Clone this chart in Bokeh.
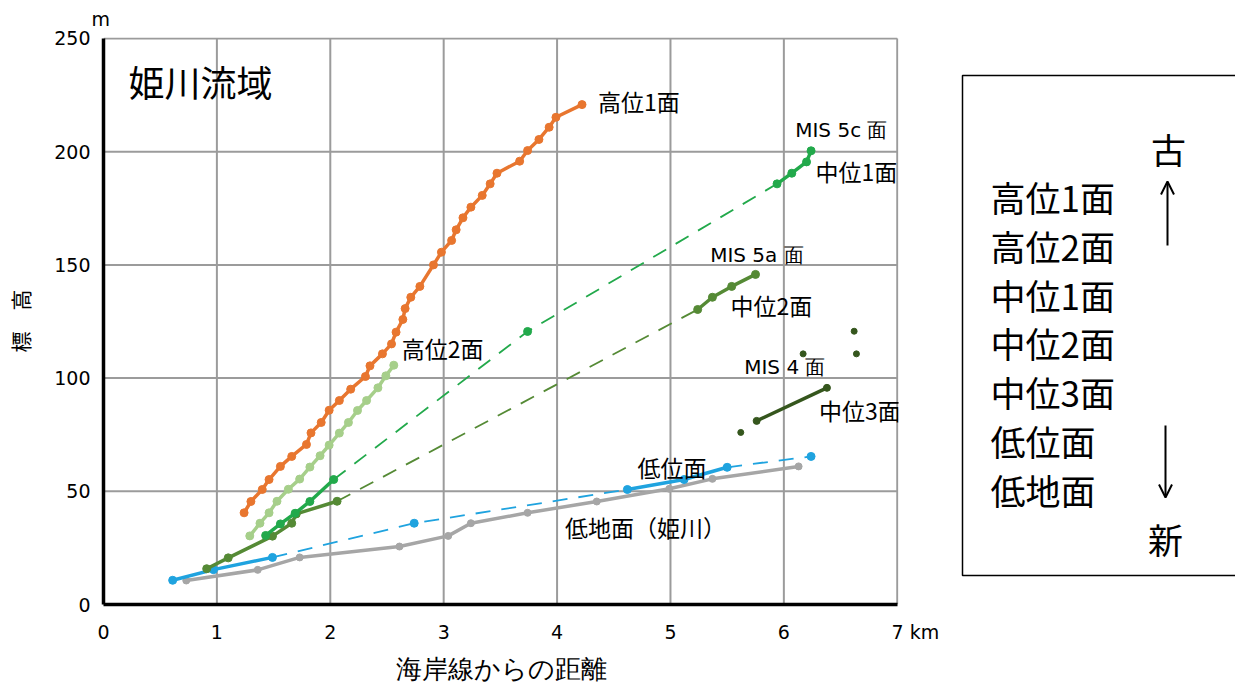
from bokeh.plotting import figure
from bokeh.layouts import row
from bokeh.models import Range1d, FixedTicker, Label, Arrow, OpenHead, Title
from bokeh.embed import file_html
from bokeh.resources import INLINE

# ---------------- data ----------------
x_ticks = [0, 1, 2, 3, 4, 5, 6, 7]
y_ticks = [0, 50, 100, 150, 200, 250]
x_unit = "km"
y_unit = "m"
x_title = "海岸線からの距離"
y_title = "標　高"

# 高位1面
koui1_x = [1.24, 1.30, 1.40, 1.46, 1.56, 1.66, 1.79, 1.83, 1.92, 1.99, 2.08, 2.18, 2.31, 2.35, 2.46,
           2.54, 2.58, 2.64, 2.66, 2.71, 2.79, 2.91, 2.98, 3.07, 3.11, 3.17, 3.24, 3.34, 3.41, 3.47,
           3.67, 3.74, 3.84, 3.93, 3.99, 4.22]
koui1_y = [40.5, 45.5, 50.8, 55.2, 61.0, 65.4, 70.7, 75.8, 80.4, 85.8, 90.1, 95.1, 100.7, 105.4, 110.7,
           115.1, 120.3, 125.9, 130.7, 135.7, 140.5, 150.0, 155.6, 160.8, 165.5, 170.8, 175.5, 180.7,
           185.8, 190.5, 195.8, 200.5, 205.4, 210.8, 215.2, 220.8]

# 高位2面
koui2_x = [1.29, 1.38, 1.46, 1.53, 1.63, 1.73, 1.82, 1.91, 1.99, 2.08, 2.16, 2.24, 2.32, 2.42, 2.49, 2.56]
koui2_y = [30.3, 35.9, 40.5, 45.6, 50.9, 55.4, 60.7, 65.7, 70.4, 75.7, 80.4, 85.7, 90.1, 95.7, 101.0, 105.7]

# 中位1面
chuui1_a_x = [1.43, 1.56, 1.69, 1.82, 2.03]
chuui1_a_y = [30.5, 35.6, 40.3, 45.5, 55.2]
chuui1_mid_x = [3.74]
chuui1_mid_y = [120.6]
chuui1_b_x = [5.94, 6.07, 6.20, 6.24]
chuui1_b_y = [185.8, 190.5, 195.5, 200.4]

# 中位2面
chuui2_a_x = [0.91, 1.10, 1.49, 1.66, 1.70, 2.06]
chuui2_a_y = [15.8, 20.6, 30.2, 35.9, 40.0, 45.6]
chuui2_b_x = [5.24, 5.37, 5.54, 5.75]
chuui2_b_y = [130.3, 135.7, 140.5, 145.8]

# 中位3面
chuui3_x = [5.76, 6.38]
chuui3_y = [81.1, 95.7]
chuui3_pts_x = [5.62, 6.17, 6.62, 6.64]
chuui3_pts_y = [76.0, 110.7, 120.7, 110.7]

# 低位面
teii_a_x = [0.61, 0.97, 1.49]
teii_a_y = [10.7, 15.4, 20.8]
teii_mid_x = [2.74]
teii_mid_y = [35.9]
teii_b_x = [4.62, 5.12, 5.50]
teii_b_y = [50.8, 55.2, 60.6]
teii_end_x = [6.24]
teii_end_y = [65.4]

# 低地面（姫川）
teichi_x = [0.73, 1.36, 1.73, 2.61, 3.04, 3.24, 3.74, 4.35, 4.99, 5.37, 6.13]
teichi_y = [10.6, 15.3, 20.8, 25.6, 30.3, 35.9, 40.5, 45.5, 51.1, 55.5, 61.0]

legend_items = ["高位1面", "高位2面", "中位1面", "中位2面", "中位3面", "低位面", "低地面"]
age_old = "古"
age_new = "新"

# ---------------- styles ----------------
C_ORANGE = "#e8762f"
C_LGREEN = "#a6cf8a"
C_GREEN = "#22a94b"
C_OLIVE = "#558a35"
C_DGREEN = "#35561d"
C_BLUE = "#1fa3df"
C_GRAY = "#a6a6a6"
GRID = "#9b9b9b"
JP = "Noto Sans CJK JP"
NUM = "DejaVu Sans"
FSP = "\u2007"

W1, H = 945, 688
FRAME_TOP, FRAME_BOTTOM = 37, 604
p = figure(width=W1, height=H,
           x_range=Range1d(0, 7.011), y_range=Range1d(0, 250.44),
           output_backend="svg", toolbar_location=None, title=None,
           min_border_left=103, min_border_right=47, min_border_top=FRAME_TOP,
           min_border_bottom=H - FRAME_BOTTOM)
p.outline_line_color = None
p.xgrid.visible = False
p.ygrid.visible = False

# grid lines (limited to the data area)
gx = [t for t in x_ticks if t > 0]
gy = [t for t in y_ticks if t > 0]
p.segment(x0=gx, y0=[0] * len(gx), x1=gx, y1=[max(y_ticks)] * len(gx), line_color=GRID, line_width=2)
p.segment(x0=[0] * len(gy), y0=gy, x1=[max(x_ticks)] * len(gy), y1=gy, line_color=GRID, line_width=2)

def style_axis(ax):
    ax.axis_line_width = 3.5
    ax.axis_line_color = "black"
    ax.major_tick_line_color = None
    ax.minor_tick_line_color = None
    ax.major_tick_out = 0
    ax.major_tick_in = 0
    ax.minor_tick_out = 0
    ax.minor_tick_in = 0
    ax.major_label_text_font = NUM
    ax.major_label_text_font_size = "19px"
    ax.major_label_text_color = "black"
    ax.axis_label_text_font_style = "normal"
    ax.axis_label_text_color = "black"

xa = p.xaxis[0]
ya = p.yaxis[0]
style_axis(xa)
style_axis(ya)
xa.ticker = FixedTicker(ticks=x_ticks)
xa.bounds = (0, max(x_ticks))
xa.major_label_standoff = 16
xa.major_label_overrides = {max(x_ticks): FSP * 3 + str(max(x_ticks)) + " " + x_unit}
xa.axis_label = x_title
xa.axis_label_text_font = NUM
xa.axis_label_text_font_size = "26px"
xa.axis_label_standoff = 8

ya.ticker = FixedTicker(ticks=y_ticks)
ya.bounds = (0, max(y_ticks))
ya.major_label_standoff = 13
ya.axis_label = y_title
ya.axis_label_text_font = JP
ya.axis_label_text_font_size = "21px"
ya.axis_label_standoff = 16

# unit above the y axis
p.add_layout(Title(text=y_unit, align="left", offset=-12, standoff=11, vertical_align="top",
                   text_font=NUM, text_font_size="19px", text_font_style="normal",
                   text_color="black"), "above")

DASH = "15 11"

def conn(ax_, ay_, bx_, by_):
    return [ax_[-1], bx_[0]], [ay_[-1], by_[0]]

# 低地面
p.line(teichi_x, teichi_y, line_color=C_GRAY, line_width=3.5)
p.scatter(teichi_x, teichi_y, size=7, color=C_GRAY)

# 低位面
dx = [teii_a_x[-1], teii_mid_x[0], teii_b_x[0]]
dy = [teii_a_y[-1], teii_mid_y[0], teii_b_y[0]]
p.line(dx, dy, line_color=C_BLUE, line_width=1.8, line_dash=DASH)
ex, ey = conn(teii_b_x, teii_b_y, teii_end_x, teii_end_y)
p.line(ex, ey, line_color=C_BLUE, line_width=1.8, line_dash=DASH)
p.line(teii_a_x, teii_a_y, line_color=C_BLUE, line_width=3.5)
p.line(teii_b_x, teii_b_y, line_color=C_BLUE, line_width=3.5)
p.scatter(teii_a_x + teii_mid_x + teii_b_x + teii_end_x,
          teii_a_y + teii_mid_y + teii_b_y + teii_end_y, size=8, color=C_BLUE)

# 中位3面
p.line(chuui3_x, chuui3_y, line_color=C_DGREEN, line_width=3.5)
p.scatter(chuui3_x, chuui3_y, size=7, color=C_DGREEN)
p.scatter(chuui3_pts_x, chuui3_pts_y, size=6, color=C_DGREEN)

# 中位2面
cx, cy = conn(chuui2_a_x, chuui2_a_y, chuui2_b_x, chuui2_b_y)
p.line(cx, cy, line_color=C_OLIVE, line_width=1.8, line_dash=DASH)
p.line(chuui2_a_x, chuui2_a_y, line_color=C_OLIVE, line_width=3.5)
p.line(chuui2_b_x, chuui2_b_y, line_color=C_OLIVE, line_width=3.5)
p.scatter(chuui2_a_x + chuui2_b_x, chuui2_a_y + chuui2_b_y, size=8, color=C_OLIVE)

# 中位1面
dx = [chuui1_a_x[-1], chuui1_mid_x[0], chuui1_b_x[0]]
dy = [chuui1_a_y[-1], chuui1_mid_y[0], chuui1_b_y[0]]
p.line(dx, dy, line_color=C_GREEN, line_width=1.8, line_dash=DASH)
p.line(chuui1_a_x, chuui1_a_y, line_color=C_GREEN, line_width=3.5)
p.line(chuui1_b_x, chuui1_b_y, line_color=C_GREEN, line_width=3.5)
p.scatter(chuui1_a_x + chuui1_mid_x + chuui1_b_x, chuui1_a_y + chuui1_mid_y + chuui1_b_y, size=8, color=C_GREEN)

# 高位2面
p.line(koui2_x, koui2_y, line_color=C_LGREEN, line_width=3.5)
p.scatter(koui2_x, koui2_y, size=8, color=C_LGREEN)

# 高位1面
p.line(koui1_x, koui1_y, line_color=C_ORANGE, line_width=3.5)
p.scatter(koui1_x, koui1_y, size=8, color=C_ORANGE)

def lab(fig, x, y, text, size, font=JP, align="left"):
    fig.add_layout(Label(x=x, y=y, text=text, text_font=font, text_font_size=size,
                         text_align=align, text_baseline="middle", text_color="black"))

# chart annotations
lab(p, 0.22, 231.4, "姫川流域", "36px")
lab(p, 4.36, 222.6, "高位1面", "23px")
lab(p, 6.10, 209.4, "MIS 5c 面", "20px", font=NUM)
lab(p, 6.28, 191.5, "中位1面", "23px")
lab(p, 5.35, 154.5, "MIS 5a 面", "20px", font=NUM)
lab(p, 5.53, 132.1, "中位2面", "23px")
lab(p, 2.63, 113.4, "高位2面", "23px")
lab(p, 5.65, 104.8, "MIS 4 面", "20px", font=NUM)
lab(p, 6.31, 85.7, "中位3面", "23px")
lab(p, 4.71, 60.6, "低位面", "23px")
lab(p, 4.07, 34.1, "低地面（姫川）", "23px")

# ---------------- right-hand panel (page pixel coordinates) ----------------
# the row aligns this figure's frame with the main frame vertically
W2 = 1235 - W1
q = figure(width=W2, height=H, x_range=Range1d(W1, 1235), y_range=Range1d(FRAME_BOTTOM, FRAME_TOP),
           output_backend="svg", toolbar_location=None, title=None,
           x_axis_location=None, y_axis_location=None,
           min_border_left=0, min_border_right=0, min_border_top=FRAME_TOP,
           min_border_bottom=H - FRAME_BOTTOM)
q.outline_line_color = None
q.xgrid.visible = False
q.ygrid.visible = False

box_l, box_r, box_t, box_b = 962, 1245, 75, 575
q.line([box_r, box_l, box_l, box_r], [box_t, box_t, box_b, box_b], line_color="black", line_width=1.5)
row0, step = 196, 48.8
for i, t in enumerate(legend_items):
    lab(q, 990, row0 + i * step, t, "35px")
lab(q, 1168, 148, age_old, "35px", align="center")
lab(q, 1165, 538, age_new, "35px", align="center")
q.add_layout(Arrow(end=OpenHead(size=13, line_width=2), x_start=1167, y_start=245,
                   x_end=1167, y_end=181, line_width=2))
q.add_layout(Arrow(end=OpenHead(size=13, line_width=2), x_start=1165, y_start=425,
                   x_end=1165, y_end=497, line_width=2))

open("out.html", "w").write(file_html(row(p, q), INLINE))
